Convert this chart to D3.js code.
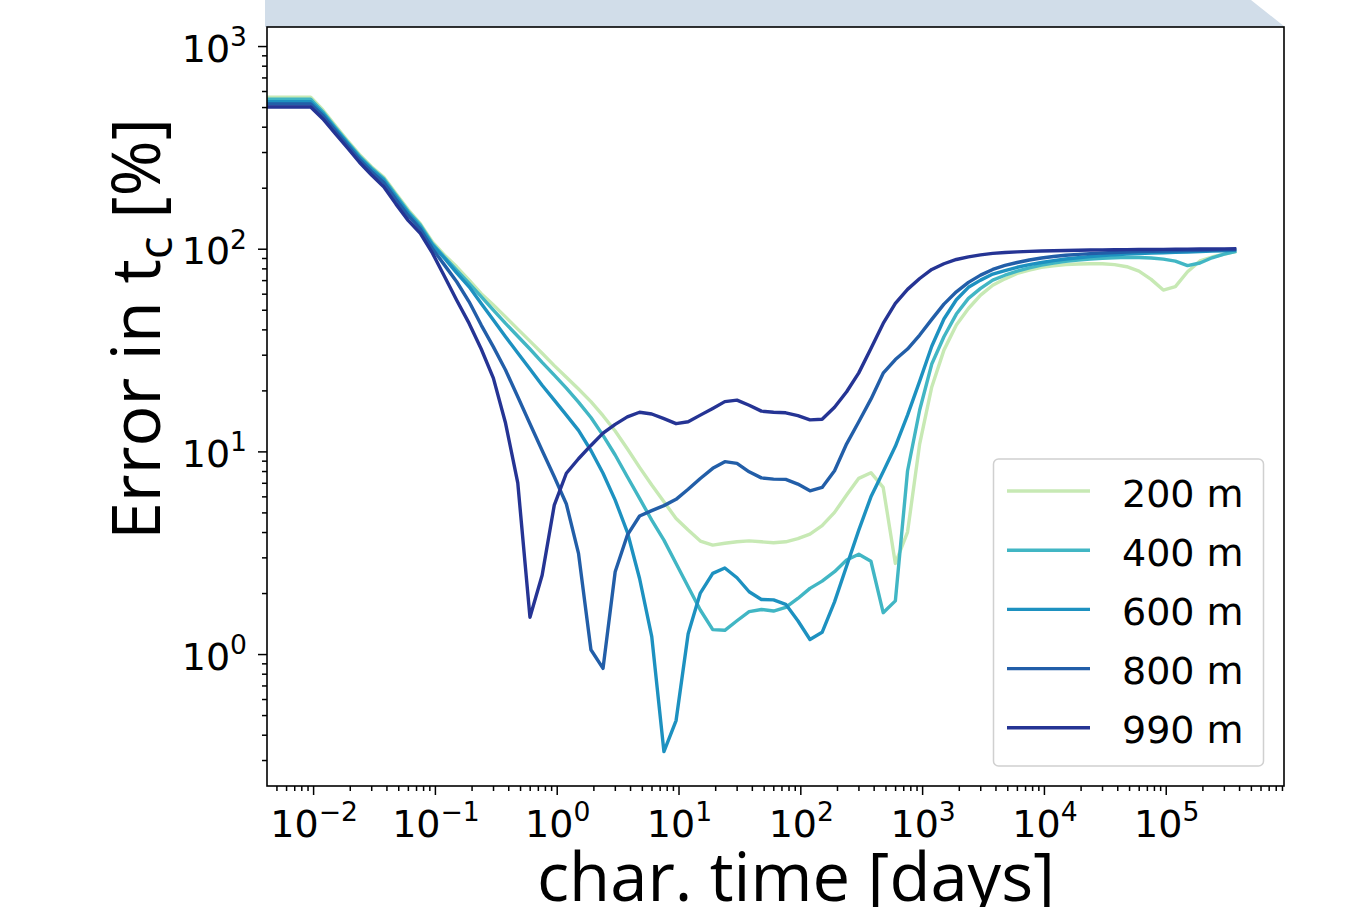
<!DOCTYPE html>
<html><head><meta charset="utf-8">
<script src="https://cdn.jsdelivr.net/npm/d3@7"></script>
<style>body{margin:0;background:#fff} svg{display:block}</style>
</head><body>
<svg id="c" width="1349" height="907"></svg>
<script>
// ---------- data ----------
const times = [0.0038, 0.00479, 0.00603, 0.00759,
  0.00955, 0.012, 0.0151, 0.0191, 0.024, 0.0302, 0.038, 0.0479, 0.0603, 0.0759,
  0.0955, 0.12, 0.151, 0.191, 0.24, 0.302, 0.38, 0.479, 0.603, 0.759,
  0.955, 1.2, 1.51, 1.91, 2.4, 3.02, 3.8, 4.79, 6.03, 7.59,
  9.55, 12, 15.1, 19.1, 24, 30.2, 38, 47.9, 60.3, 75.9,
  95.5, 120, 151, 191, 240, 302, 380, 479, 603, 759,
  955, 1200, 1510, 1910, 2400, 3020, 3800, 4790, 6030, 7590,
  9550, 12000, 15100, 19100, 24000, 30200, 38000, 47900, 60300, 75900,
  95500, 120000, 151000, 191000, 240000, 302000, 380000];

const err200 = [560, 560, 560, 560,
  560, 485, 408, 343, 292, 254, 226, 187, 156, 133,
  108, 93, 81.4, 70, 60, 52.7, 46.1, 40.1, 35, 30.5,
  26.5, 23.2, 20.3, 17.6, 15.0, 12.6, 10.3, 8.34, 6.82, 5.64,
  4.67, 4.09, 3.61, 3.45, 3.52, 3.58, 3.62, 3.58, 3.54, 3.58,
  3.71, 3.91, 4.3, 5.0, 6.09, 7.36, 7.85, 6.64, 2.8, 4.0,
  10.9, 20.8, 31.6, 42, 50.7, 59, 66, 71, 75.5, 78.5,
  81, 82.4, 83.5, 84, 84.3, 84.3, 83.5, 81.5, 77.6, 70.6,
  62.5, 65, 77, 87, 91, 94, 97];

const err400 = [547, 547, 547, 547,
  547, 475, 400, 337, 287, 250, 222, 184, 153, 131,
  106, 91, 78.4, 67.4, 58, 49.8, 42.8, 37, 32, 27.5,
  23.8, 20.5, 17.5, 14.7, 12, 9.6, 7.5, 5.86, 4.58, 3.65,
  2.8, 2.15, 1.65, 1.32, 1.31, 1.46, 1.62, 1.66, 1.63, 1.7,
  1.88, 2.11, 2.29, 2.55, 2.91, 3.11, 2.87, 1.6, 1.83, 8.0,
  16, 27, 36.8, 47.6, 56.9, 63.7, 70, 74, 77.5, 80.5,
  83, 85, 86.7, 88, 89, 89.8, 90.3, 90.6, 90.5, 90,
  88.9, 86.9, 82.5, 85, 90.2, 94, 97];

const err600 = [532, 532, 532, 532,
  532, 465, 393, 332, 282, 246, 218, 180, 150, 128,
  104, 89.6, 76, 64.9, 53.7, 44.5, 36.8, 30.6, 25.5, 21.2,
  17.9, 15.1, 12.7, 10.1, 7.8, 5.75, 4.0, 2.36, 1.22, 0.33,
  0.47, 1.26, 2.0, 2.5, 2.66, 2.38, 2.03, 1.86, 1.85, 1.76,
  1.46, 1.18, 1.28, 1.81, 2.72, 4.09, 5.97, 7.93, 10.6, 15.1,
  22.2, 33, 45, 56, 64.5, 70, 75, 78, 81, 83.5,
  85.5, 87.3, 89, 90.3, 91.5, 92.5, 93.3, 94, 94.6, 95.1,
  95.6, 96, 96.4, 96.8, 97.3, 97.8, 98.5];

const err800 = [518, 518, 518, 518,
  518, 455, 385, 325, 276, 240, 212, 175, 146, 125,
  100, 83, 68.7, 54.7, 42, 32.8, 25.2, 18.6, 13.7, 10.1,
  7.5, 5.5, 3.14, 1.05, 0.85, 2.55, 3.86, 4.8, 5.1, 5.4,
  5.8, 6.5, 7.35, 8.25, 8.9, 8.73, 7.93, 7.4, 7.3, 7.28,
  6.9, 6.39, 6.64, 8.02, 10.9, 14.0, 18.1, 24.3, 28.4, 32,
  37.5, 44.8, 53.3, 61.3, 68.2, 74.1, 79, 82.7, 85.5, 88,
  90, 91.5, 92.8, 93.8, 94.6, 95.3, 95.8, 96.3, 96.7, 97,
  97.3, 97.6, 97.9, 98.2, 98.5, 98.8, 99];

const err990 = [500, 500, 500, 500,
  500, 438, 372, 315, 267, 231, 202, 166, 138, 119,
  95, 73, 55.7, 42.8, 32, 23, 13.8, 7.0, 1.52, 2.45,
  5.43, 7.8, 9.2, 10.7, 12.3, 13.6, 14.8, 15.6, 15.3, 14.5,
  13.7, 14.0, 15.1, 16.3, 17.6, 17.9, 16.9, 15.8, 15.6, 15.5,
  15.0, 14.3, 14.4, 16.5, 19.7, 24.4, 32.2, 42.8, 53.7, 63,
  71.3, 79, 84.3, 88.5, 91.2, 93.3, 94.8, 95.8, 96.5, 97,
  97.5, 97.8, 98, 98.3, 98.5, 98.7, 98.9, 99, 99.1, 99.2,
  99.3, 99.4, 99.5, 99.6, 99.7, 99.8, 99.9];

const seriesNames = ["200 m", "400 m", "600 m", "800 m", "990 m"];
const seriesValues = [err200, err400, err600, err800, err990];
const seriesColors = ["#c7e9b4", "#41b6c4", "#1d91c0", "#225ea8", "#253494"];

const xTickExps = [-2, -1, 0, 1, 2, 3, 4, 5];
const yTickExps = [0, 1, 2, 3];
const xDomain = [Math.pow(10, -2.3785), Math.pow(10, 5.971)];
const yDomain = [Math.pow(10, -0.651), Math.pow(10, 3.094)];

// ---------- layout ----------
const L = 267, R = 1284, T = 27, B = 786;
const svg = d3.select("#c");

const x = d3.scaleLog().domain(xDomain).range([L, R]);
const y = d3.scaleLog().domain(yDomain).range([B, T]);

// top banner
svg.append("path")
  .attr("d", `M265,0 L1251,0 L1285,${T} L265,${T} Z`)
  .attr("fill", "#d1dde9");

svg.append("rect").attr("x", L).attr("y", T).attr("width", R - L).attr("height", B - T).attr("fill", "#fff");

svg.append("clipPath").attr("id", "clip")
  .append("rect").attr("x", L).attr("y", T).attr("width", R - L).attr("height", B - T);

// lines
const line = d3.line().x(d => x(d[0])).y(d => y(d[1]));
const gLines = svg.append("g").attr("clip-path", "url(#clip)");
seriesValues.forEach((vals, i) => {
  gLines.append("path")
    .datum(times.map((t, j) => [t, vals[j]]))
    .attr("d", line)
    .attr("fill", "none")
    .attr("stroke", seriesColors[i])
    .attr("stroke-width", 3.4)
    .attr("stroke-linejoin", "round");
});

// minor ticks
function minorTicks(dom) {
  const out = [];
  const lo = Math.floor(Math.log10(dom[0])), hi = Math.ceil(Math.log10(dom[1]));
  for (let e = lo; e <= hi; e++) for (let m = 2; m <= 9; m++) {
    const v = m * Math.pow(10, e);
    if (v >= dom[0] && v <= dom[1]) out.push(v);
  }
  return out;
}
const xMajor = xTickExps.map(e => Math.pow(10, e));
const yMajor = yTickExps.map(e => Math.pow(10, e));

function styleAxis(g) {
  g.select(".domain").remove();
  g.selectAll(".tick line").attr("stroke", "#000").attr("stroke-width", 1.5);
}
svg.append("g").attr("transform", `translate(0,${B})`)
  .call(d3.axisBottom(x).tickValues(minorTicks(xDomain)).tickSize(5).tickFormat(""))
  .call(styleAxis);
svg.append("g").attr("transform", `translate(0,${B})`)
  .call(d3.axisBottom(x).tickValues(xMajor).tickSize(9).tickFormat(""))
  .call(styleAxis);
svg.append("g").attr("transform", `translate(${L},0)`)
  .call(d3.axisLeft(y).tickValues(minorTicks(yDomain)).tickSize(5).tickFormat(""))
  .call(styleAxis);
svg.append("g").attr("transform", `translate(${L},0)`)
  .call(d3.axisLeft(y).tickValues(yMajor).tickSize(9).tickFormat(""))
  .call(styleAxis);

const tickFont = "DejaVu Sans";
const tickSize = 38, supSize = 26.6;
function expLabel(sel, e) {
  sel.append("tspan").text("10");
  sel.append("tspan").attr("dy", -15.5).attr("font-size", supSize)
    .text(e < 0 ? "\u2212" + (-e) : String(e));
}
xTickExps.forEach(e => {
  const t = svg.append("text")
    .attr("x", x(Math.pow(10, e)) + 1).attr("y", 836.5)
    .attr("text-anchor", "middle")
    .attr("font-family", tickFont).attr("font-size", tickSize).attr("fill", "#000");
  expLabel(t, e);
});
yTickExps.forEach(e => {
  const t = svg.append("text")
    .attr("x", 247).attr("y", y(Math.pow(10, e)) + 15.5)
    .attr("text-anchor", "end")
    .attr("font-family", tickFont).attr("font-size", tickSize).attr("fill", "#000");
  expLabel(t, e);
});

// spines
svg.append("rect").attr("x", L).attr("y", T).attr("width", R - L).attr("height", B - T)
  .attr("fill", "none").attr("stroke", "#000").attr("stroke-width", 1.6);

// axis labels
const labelFont = "'Open Sans', 'DejaVu Sans', sans-serif";
const xl = svg.append("text")
  .attr("x", 796).attr("y", 901)
  .attr("text-anchor", "middle")
  .attr("font-family", labelFont).attr("font-size", 64).attr("fill", "#000")
  .text("char. time [days]");
{
  const w = xl.node().getComputedTextLength();
  xl.attr("font-size", 64 * 518 / w);
}

const yl = svg.append("text")
  .attr("transform", "translate(160,329) rotate(-90)")
  .attr("text-anchor", "middle")
  .attr("font-family", labelFont).attr("font-size", 64).attr("fill", "#000");
yl.append("tspan").text("Error in t");
yl.append("tspan").attr("dy", "0.25em").attr("font-size", "0.7em").text("c");
yl.append("tspan").attr("dy", "-0.175em").text(" [%]");
{
  const w = yl.node().getComputedTextLength();
  yl.attr("font-size", 64 * 422 / w);
}

// legend
const lg = svg.append("g");
lg.append("rect").attr("x", 993.5).attr("y", 459).attr("width", 270).attr("height", 307)
  .attr("rx", 5).attr("fill", "#fff").attr("fill-opacity", 0.8)
  .attr("stroke", "#d0d0d0").attr("stroke-width", 1.5);
seriesNames.forEach((n, i) => {
  const yy = 491 + i * 59.2;
  lg.append("line").attr("x1", 1007).attr("x2", 1090).attr("y1", yy).attr("y2", yy)
    .attr("stroke", seriesColors[i]).attr("stroke-width", 3.4);
  lg.append("text").attr("x", 1122).attr("y", yy + 15.5)
    .attr("font-family", tickFont).attr("font-size", tickSize).attr("fill", "#000")
    .text(n);
});
</script>
</body></html>
